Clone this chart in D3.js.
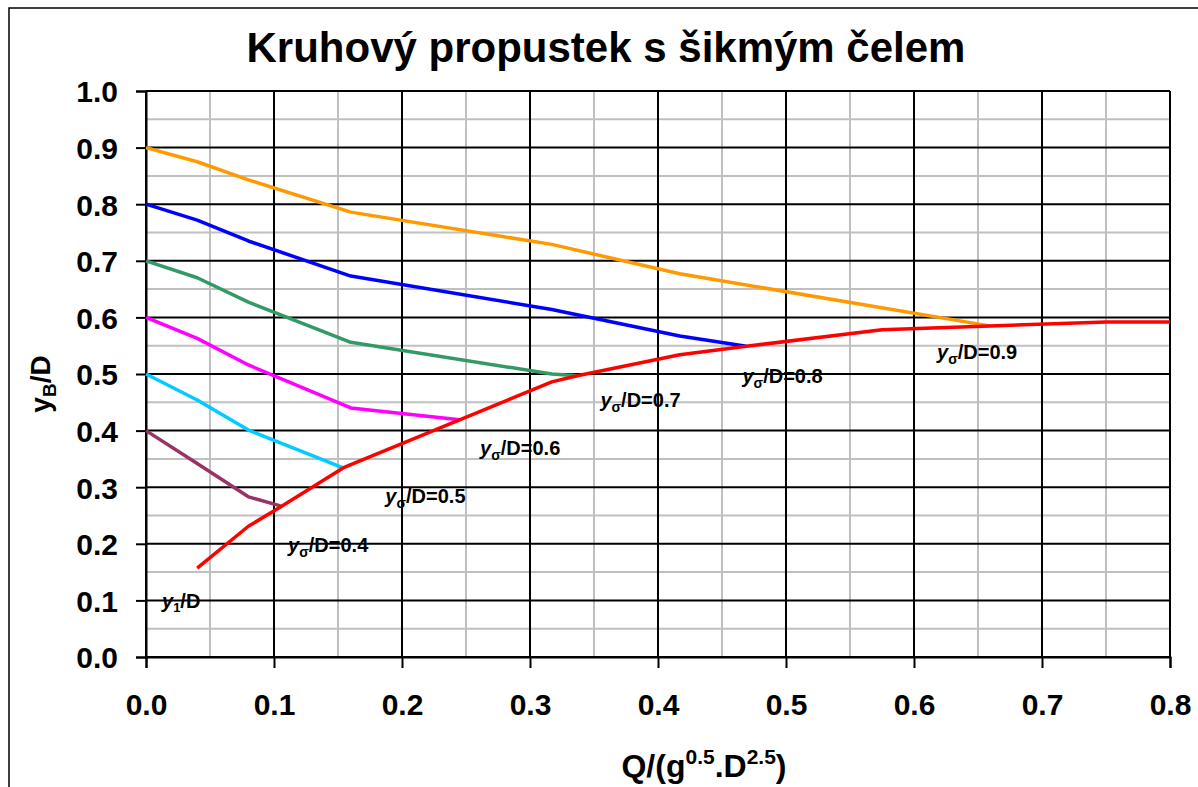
<!DOCTYPE html>
<html>
<head>
<meta charset="utf-8">
<script src="https://cdn.jsdelivr.net/npm/d3@7"></script>
<style>
  html, body { margin: 0; padding: 0; background: #fff; }
  svg { display: block; font-family: "Liberation Sans", Arial, sans-serif; font-weight: bold; }
</style>
</head>
<body>
<svg id="chart" width="1198" height="787"></svg>
<script>
// ---------- data ----------
const title = "Kruhový propustek s šikmým čelem";
const xTicks = [0, 0.1, 0.2, 0.3, 0.4, 0.5, 0.6, 0.7, 0.8];
const yTicks = [0, 0.1, 0.2, 0.3, 0.4, 0.5, 0.6, 0.7, 0.8, 0.9, 1.0];

const s04 = [[0, 0.400], [0.04, 0.342], [0.08, 0.283], [0.105, 0.267]];
const s05 = [[0, 0.500], [0.04, 0.454], [0.08, 0.401], [0.154, 0.334]];
const s06 = [[0, 0.600], [0.04, 0.563], [0.08, 0.516], [0.16, 0.440], [0.245, 0.419]];
const s07 = [[0, 0.700], [0.04, 0.670], [0.08, 0.627], [0.16, 0.556], [0.317, 0.500], [0.337, 0.497]];
const s08 = [[0, 0.800], [0.04, 0.772], [0.08, 0.735], [0.16, 0.673], [0.317, 0.614], [0.417, 0.567], [0.469, 0.549]];
const s09 = [[0, 0.900], [0.04, 0.875], [0.08, 0.843], [0.16, 0.786], [0.317, 0.729], [0.417, 0.677], [0.659, 0.585]];
const y1 = [[0.04, 0.157], [0.08, 0.231], [0.105, 0.265], [0.154, 0.334], [0.16, 0.340], [0.245, 0.419],
            [0.317, 0.486], [0.337, 0.497], [0.417, 0.534], [0.469, 0.549], [0.575, 0.578], [0.659, 0.585],
            [0.75, 0.592], [0.8, 0.592]];

const seriesNames = ["0.4", "0.5", "0.6", "0.7", "0.8", "0.9", "y1"];
const seriesData = [s04, s05, s06, s07, s08, s09, y1];
const seriesColors = ["#993366", "#00CCFF", "#FF00FF", "#339966", "#0000FF", "#FF9900", "#FF0000"];

// label anchors (data units) for curve annotations
const labelValues = ["0.4", "0.5", "0.6", "0.7", "0.8", "0.9"];
const labelX = [0.111, 0.187, 0.261, 0.355, 0.466, 0.618];
const labelY = [0.186, 0.272, 0.357, 0.442, 0.484, 0.527];
const y1LabelX = 0.0125, y1LabelY = 0.087;

// ---------- layout ----------
const svg = d3.select("#chart");
const x = d3.scaleLinear().domain([0, 0.8]).range([146, 1170]);
const y = d3.scaleLinear().domain([0, 1.0]).range([657, 91]);

// outer frame
svg.append("rect").attr("x", 9).attr("y", 8).attr("width", 1220).attr("height", 820)
  .attr("fill", "none").attr("stroke", "#000").attr("stroke-width", 1.5);

// title
svg.append("text").attr("x", 606).attr("y", 62).attr("text-anchor", "middle")
  .attr("font-size", 42).text(title);

// grid
const g = svg.append("g");
const minorX = d3.range(0.05, 0.8, 0.1);
const minorY = d3.range(0.05, 1.0, 0.1);
g.selectAll(".mx").data(minorX).enter().append("line")
  .attr("x1", d => x(d)).attr("x2", d => x(d)).attr("y1", y(0)).attr("y2", y(1))
  .attr("stroke", "#C0C0C0").attr("stroke-width", 2);
g.selectAll(".my").data(minorY).enter().append("line")
  .attr("x1", x(0)).attr("x2", x(0.8)).attr("y1", d => y(d)).attr("y2", d => y(d))
  .attr("stroke", "#C0C0C0").attr("stroke-width", 2);
g.selectAll(".Mx").data(xTicks).enter().append("line")
  .attr("x1", d => x(d)).attr("x2", d => x(d)).attr("y1", y(0)).attr("y2", y(1))
  .attr("stroke", "#000").attr("stroke-width", 2);
g.selectAll(".My").data(yTicks).enter().append("line")
  .attr("x1", x(0)).attr("x2", x(0.8)).attr("y1", d => y(d)).attr("y2", d => y(d))
  .attr("stroke", "#000").attr("stroke-width", 2);

// axes
const xAxis = d3.axisBottom(x).tickValues(xTicks).tickFormat(d3.format(".1f")).tickSize(11).tickPadding(26);
const yAxis = d3.axisLeft(y).tickValues(yTicks).tickFormat(d3.format(".1f")).tickSize(10).tickPadding(18);
const gx = svg.append("g").attr("transform", `translate(0,${y(0)})`).call(xAxis);
const gy = svg.append("g").attr("transform", `translate(${x(0)},0)`).call(yAxis);
[gx, gy].forEach(a => {
  a.select(".domain").attr("stroke", "#000").attr("stroke-width", 2);
  a.selectAll(".tick line").attr("stroke", "#000").attr("stroke-width", 2);
  a.selectAll(".tick text").attr("font-size", 30).attr("font-weight", "bold")
    .attr("font-family", "'Liberation Sans', Arial, sans-serif").attr("fill", "#000");
});
gx.selectAll(".tick text").attr("dy", "0.71em");
gy.selectAll(".tick text").attr("dy", "0.36em");

// lines
const line = d3.line().x(d => x(d[0])).y(d => y(d[1]));
svg.append("g").selectAll("path").data(seriesData).enter().append("path")
  .attr("d", d => line(d)).attr("fill", "none")
  .attr("stroke", (d, i) => seriesColors[i]).attr("stroke-width", 3.5)
  .attr("stroke-linejoin", "round");

// annotations
const lab = svg.append("g").attr("font-size", 20);
labelValues.forEach((v, i) => {
  const t = lab.append("text").attr("x", x(labelX[i])).attr("y", y(labelY[i]));
  t.append("tspan").attr("font-style", "italic").text("y");
  t.append("tspan").attr("font-size", 14).attr("dy", 5).text("σ");
  t.append("tspan").attr("dy", -5).text("/D=" + v);
});
{
  const t = lab.append("text").attr("x", x(y1LabelX)).attr("y", y(y1LabelY));
  t.append("tspan").attr("font-style", "italic").text("y");
  t.append("tspan").attr("font-size", 13).attr("dy", 4).text("1");
  t.append("tspan").attr("dy", -4).text("/D");
}

// axis titles
{
  const t = svg.append("text").attr("x", 704).attr("y", 777).attr("text-anchor", "middle").attr("font-size", 32);
  t.append("tspan").text("Q/(g");
  t.append("tspan").attr("font-size", 21).attr("dy", -13).text("0.5");
  t.append("tspan").attr("dy", 13).text(".D");
  t.append("tspan").attr("font-size", 21).attr("dy", -13).text("2.5");
  t.append("tspan").attr("dy", 13).text(")");
}
{
  const t = svg.append("text").attr("transform", "translate(50,384) rotate(-90)")
    .attr("text-anchor", "middle").attr("font-size", 28);
  t.append("tspan").text("y");
  t.append("tspan").attr("font-size", 19).attr("dy", 6).text("B");
  t.append("tspan").attr("dy", -6).text("/D");
}
</script>
</body>
</html>
